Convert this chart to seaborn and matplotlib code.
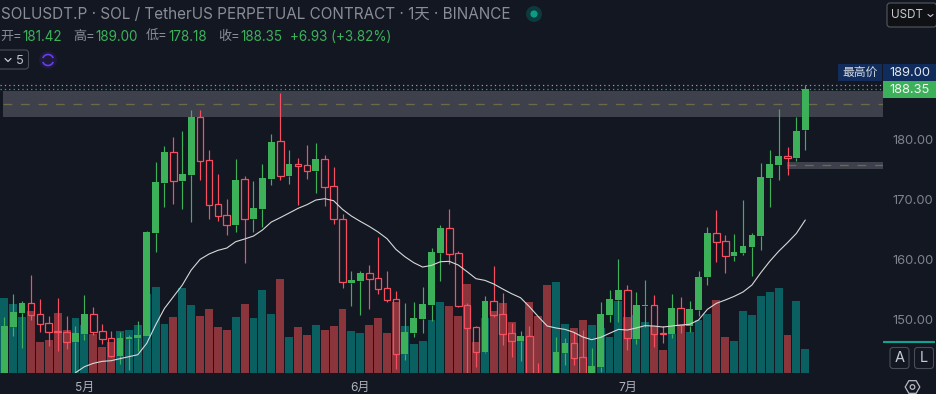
#!/usr/bin/env python3
# -*- coding: utf-8 -*-
# SOLUSDT.P daily candles with volume and a moving average

import numpy as np
import pandas as pd
import seaborn as sns
import matplotlib.pyplot as plt
from matplotlib.patches import Arc, FancyBboxPatch, Rectangle, Circle, RegularPolygon

## Data
opens = [140.0, 148.67, 150.99, 152.61, 150.77, 149.27, 147.94, 147.77, 146.16, 147.50,
         150.77, 147.94, 146.77, 143.83, 146.66, 146.89, 147.16, 164.33, 172.66, 177.77,
         173.00, 174.00, 183.66, 176.44, 169.11, 167.27, 165.66, 173.27, 166.66, 168.33,
         173.33, 179.61, 173.83, 175.83, 175.61, 174.66, 176.61, 172.11, 166.61, 156.00,
         156.33, 157.61, 156.77, 155.11, 153.27, 144.16, 147.66, 150.00, 152.33, 161.00,
         165.11, 160.94, 152.27, 148.61, 144.50, 152.94, 150.77, 147.61, 146.33, 147.11,
         140.1, 138.5, 137.8, 144.33, 145.94, 143.61, 139.5, 142.00, 150.66, 153.16,
         154.77, 146.66, 152.16, 152.27, 147.66, 147.50, 151.77, 148.83, 151.50, 157.00,
         164.27, 162.94, 160.50, 161.00, 162.00, 163.83, 173.50, 175.66, 177.16, 176.83,
         181.42]
highs = [150.27, 154.17, 153.00, 157.33, 153.33, 150.50, 153.50, 150.50, 148.83, 154.00,
         152.00, 149.16, 148.00, 147.83, 147.33, 149.66, 164.66, 176.16, 178.83, 180.33,
         181.33, 184.83, 184.83, 178.16, 174.16, 170.00, 176.66, 173.83, 173.00, 175.83,
         180.83, 187.66, 178.16, 176.83, 179.00, 179.33, 177.33, 175.33, 167.50, 158.00,
         158.00, 159.00, 163.66, 158.00, 154.66, 152.66, 152.83, 155.33, 161.83, 165.66,
         168.33, 161.33, 152.66, 148.83, 153.83, 158.83, 154.33, 149.33, 148.00, 148.83,
         142.66, 140.5, 147.00, 146.83, 147.83, 148.16, 145.16, 152.83, 154.83, 160.00,
         155.66, 154.50, 156.50, 154.00, 148.83, 154.16, 153.66, 153.00, 158.00, 165.33,
         168.16, 164.00, 164.16, 169.83, 164.33, 176.00, 178.16, 185.00, 178.66, 183.66,
         189.00]
lows = [138.5, 147.16, 145.16, 149.83, 147.83, 145.50, 144.66, 145.00, 140.66, 146.50,
        147.33, 145.83, 143.61, 142.50, 141.50, 144.66, 147.16, 161.16, 168.66, 169.16,
        168.33, 166.16, 173.16, 166.66, 166.33, 164.00, 164.50, 159.33, 164.50, 165.33,
        172.33, 173.16, 172.50, 169.00, 173.33, 171.00, 168.83, 165.83, 155.16, 152.16,
        150.66, 151.66, 154.16, 152.83, 141.66, 143.16, 147.00, 147.66, 149.66, 156.33,
        159.16, 152.00, 139.83, 142.00, 144.33, 150.33, 145.66, 143.66, 143.00, 139.83,
        137.5, 136.5, 135.5, 142.33, 142.33, 136.5, 138.0, 141.16, 149.50, 149.50,
        144.83, 145.83, 148.66, 145.33, 146.00, 146.83, 147.66, 147.83, 150.50, 155.66,
        159.50, 157.66, 159.66, 160.66, 157.16, 161.50, 168.66, 173.16, 174.00, 176.33,
        178.18]
closes = [148.83, 151.16, 152.66, 150.66, 149.22, 147.89, 147.89, 146.22, 147.66, 150.83,
          147.89, 146.72, 143.83, 146.83, 147.00, 147.33, 164.50, 172.83, 177.83, 173.05,
          174.16, 183.66, 176.39, 169.05, 167.22, 165.72, 173.16, 166.72, 168.50, 173.50,
          179.50, 173.89, 175.83, 175.50, 174.72, 176.66, 172.05, 166.61, 156.11, 156.50,
          157.66, 156.72, 155.05, 153.22, 144.22, 147.83, 150.16, 152.50, 161.16, 165.16,
          160.89, 152.22, 148.55, 144.55, 153.00, 150.66, 147.55, 146.39, 147.16, 140.11,
          138.5, 137.5, 144.50, 146.00, 143.55, 139.5, 142.16, 150.83, 153.33, 154.83,
          146.89, 152.33, 152.33, 147.55, 147.55, 151.83, 148.94, 151.66, 157.00, 164.33,
          162.89, 160.55, 161.16, 162.16, 164.00, 173.66, 175.83, 177.16, 176.83, 181.33,
          188.35]
volumes = [7.53, 6.93, 5.63, 6.23, 3.13, 3.33, 6.03, 4.33, 5.53, 4.83,
           3.93, 2.63, 3.13, 4.23, 4.33, 4.83, 7.93, 8.63, 4.93, 5.63,
           8.53, 6.83, 5.73, 6.43, 4.63, 4.33, 5.63, 6.93, 5.53, 8.33,
           5.93, 9.43, 3.63, 4.63, 3.83, 4.83, 4.33, 4.73, 6.43, 4.23,
           4.03, 4.83, 5.53, 4.03, 7.13, 4.73, 2.93, 3.23, 5.33, 7.13,
           6.73, 5.73, 8.93, 3.13, 5.53, 6.23, 7.03, 5.13, 3.73, 7.13,
           5.73, 8.83, 9.13, 4.93, 4.53, 5.33, 4.83, 4.53, 3.63, 7.23,
           5.63, 5.83, 5.13, 4.73, 2.33, 3.93, 4.83, 4.13, 5.33, 5.93,
           7.33, 3.63, 3.23, 6.23, 5.83, 7.73, 8.13, 8.53, 3.83, 7.23,
           2.43]
ma_line = [np.nan] * 8 + [
    141.05, 142.05, 142.61, 142.94, 143.05, 143.39, 143.72, 144.05, 145.94, 149.00,
    151.77, 153.72, 155.66, 158.16, 159.94, 160.83, 161.44, 161.83, 162.89, 163.33,
    163.83, 164.83, 166.16, 166.89, 167.66, 168.44, 169.05, 169.83, 170.05, 169.72,
    168.27, 167.16, 166.27, 165.44, 164.50, 163.39, 161.61, 160.39, 159.39, 158.66,
    158.94, 159.55, 159.61, 159.00, 157.89, 156.72, 156.44, 155.83, 155.00, 154.22,
    153.55, 152.05, 150.39, 148.83, 148.50, 148.27, 147.77, 147.00, 146.55, 146.94,
    147.61, 148.27, 148.16, 148.50, 148.89, 148.83, 148.66, 148.83, 149.00, 149.11,
    149.83, 151.61, 152.61, 153.16, 153.77, 154.50, 155.66, 157.72, 159.61, 161.27,
    162.72, 164.27, 166.50]
price_ticks = [150, 160, 170, 180]
month_ticks = [9, 40, 70]
month_labels = ['5月', '6月', '7月']
title_text = 'SOLUSDT.P · SOL / TetherUS PERPETUAL CONTRACT · 1天 · BINANCE'

## Colours
BG = '#131722'
UP = '#3cb15a'
DOWN = '#f74f60'
VOL_UP = '#0a5f60'
VOL_DOWN = '#8a343c'
ZONE = '#3e414b'
DASH = '#6b6a4a'
GREY = '#8a8d95'

sns.set_theme(style='dark', rc={'figure.facecolor': BG, 'axes.facecolor': BG})
plt.rcParams['font.family'] = ['Inter', 'Noto Sans CJK SC', 'DejaVu Sans']

df = pd.DataFrame({'idx': np.arange(len(closes)), 'open': opens, 'high': highs, 'low': lows,
                   'close': closes, 'volume': volumes, 'ma': ma_line})
df['up'] = df['close'] >= df['open']

W, H = 937, 394
PLOT_W, PLOT_H = 883, 373
fig = plt.figure(figsize=(W / 100, H / 100), dpi=100)
pos = [0, (H - PLOT_H) / H, PLOT_W / W, PLOT_H / H]
xlim = (-0.483, 98.73)

## Volume underneath
ax_vol = fig.add_axes(pos)
sns.barplot(data=df, x='idx', y='volume', hue='up', palette={True: VOL_UP, False: VOL_DOWN},
            dodge=False, native_scale=True, width=0.88, saturation=1, legend=False,
            linewidth=0, ax=ax_vol)
ax_vol.set_xlim(xlim)
ax_vol.set_ylim(0, 37.3)
ax_vol.axis('off')

## Price panel
ax = fig.add_axes(pos, facecolor='none')

# zones
x_zone = lambda px: (px / PLOT_W)
ax.axhspan(183.66, 188.0, xmin=x_zone(3), xmax=1, color=ZONE, lw=0, zorder=1)
ax.axhline(185.77, xmin=x_zone(3), xmax=1, color=DASH, lw=0.9, dashes=(7, 7), zorder=1.5)
ax.axhspan(175.0, 176.16, xmin=x_zone(787), xmax=1, color=ZONE, lw=0, zorder=1)
ax.axhline(175.6, xmin=x_zone(787), xmax=1, color=DASH, lw=0.9, dashes=(7, 7), zorder=1.5)
ax.axhline(189.0, color='#9a9ea6', lw=0.9, dashes=(1, 2.5), zorder=1.5)
ax.axhline(188.35, color='#35a58a', lw=0.9, dashes=(1, 2.5), zorder=1.5)

# candles
body_w = 0.75
for row in df.itertuples():
    top, bottom = max(row.open, row.close), min(row.open, row.close)
    col = UP if row.up else DOWN
    ax.vlines(row.idx, top, row.high, color=col, lw=0.85, zorder=3)
    ax.vlines(row.idx, row.low, bottom, color=col, lw=0.85, zorder=3)
    if row.up:
        ax.bar(row.idx, top - bottom, bottom=bottom, width=body_w, color=col, lw=0, zorder=3)
    else:
        ax.bar(row.idx, top - bottom, bottom=bottom, width=body_w, facecolor='none',
               edgecolor=col, lw=0.9, zorder=3)

sns.lineplot(data=df.dropna(subset=['ma']), x='idx', y='ma', color='#d8d8d8', lw=0.8,
             ax=ax, zorder=4, legend=False)

ax.set_xlim(xlim)
ax.set_ylim(141.0, 203.17)
ax.set_xlabel('')
ax.set_ylabel('')
ax.grid(False)
for s in ax.spines.values():
    s.set_visible(False)
ax.yaxis.tick_right()
ax.set_yticks(price_ticks)
ax.set_yticklabels([f'{p:.2f}' for p in price_ticks], color='#80838c', fontsize=9.3)
ax.set_xticks(month_ticks)
ax.set_xticklabels(month_labels, color='#b0b3ba', fontsize=8.6)
ax.tick_params(axis='x', length=0, pad=6.5)
ax.tick_params(axis='y', length=0, pad=6.5)

## Header and the right hand furniture, in pixel coordinates
ov = fig.add_axes([0, 0, 1, 1], facecolor='none')
ov.set_xlim(0, W)
ov.set_ylim(H, 0)
ov.axis('off')

ov.text(1.5, 14.5, title_text, color=GREY, fontsize=11.0, va='center', ha='left')
ov.add_patch(Circle((534, 14), 8, color='#0d3a3c', lw=0))
ov.add_patch(Circle((534, 14), 3.6, color='#0a9d84', lw=0))

# OHLC row
for x, label, val in [(0, '开', '181.42'), (73, '高', '189.00'), (146, '低', '178.18'), (218.5, '收', '188.35')]:
    ov.text(x, 36.5, label + '=', color=GREY, fontsize=9.4, va='center', ha='left')
    ov.text(x + 22, 36.5, val, color=UP, fontsize=9.7, va='center', ha='left')
ov.text(290, 36.5, '+6.93 (+3.82%)', color=UP, fontsize=9.7, va='center', ha='left')

# indicator row
ov.add_patch(FancyBboxPatch((-5, 50), 33.5, 19, boxstyle='round,pad=0,rounding_size=3',
                            fc='none', ec='#4a4d55', lw=0.8))
ov.plot([5, 8, 11], [58.5, 61.5, 58.5], color='#c8cad0', lw=0.9)
ov.text(16, 60.5, '5', color='#c0c2c8', fontsize=9.3, va='center', ha='left')
ov.add_patch(Circle((48, 60), 9, color='#1d1a3c', lw=0))
ov.add_patch(Arc((48, 60), 11, 11, theta1=200, theta2=340, ec='#6a3cf0', lw=1.2))
ov.add_patch(Arc((48, 60), 11, 11, theta1=20, theta2=160, ec='#6a3cf0', lw=1.2))

# USDT button
ov.add_patch(FancyBboxPatch((887, 3), 49.5, 24, boxstyle='round,pad=0,rounding_size=3',
                            fc='#101114', ec='#55585f', lw=0.8))
ov.text(891, 15, 'USDT', color='#c8cad0', fontsize=8.4, va='center', ha='left')
ov.plot([928, 930.5, 933], [14.5, 16.5, 14.5], color='#c8cad0', lw=0.8)

# price tags
ov.add_patch(Rectangle((838, 64), 44, 17, color='#122d5c', lw=0))
ov.text(860, 72.5, '最高价', color='#d5d8de', fontsize=8.5, va='center', ha='center')
ov.add_patch(Rectangle((883, 64), 54, 17, color='#0f2c5c', lw=0))
ov.text(910, 72.5, '189.00', color='#e4e6ea', fontsize=9.3, va='center', ha='center')
ov.add_patch(Rectangle((883, 81), 54, 17, color=UP, lw=0))
ov.text(910, 89.5, '188.35', color='#f2f4f2', fontsize=9.3, va='center', ha='center')

# A / L buttons and settings
ov.plot([883, 935], [342, 342], color='#0fa391', lw=1.5, solid_capstyle='butt')
for bx, txt in [(890, 'A'), (914.5, 'L')]:
    ov.add_patch(FancyBboxPatch((bx, 347.5), 19, 21, boxstyle='round,pad=0,rounding_size=3',
                                fc='none', ec='#4a4d55', lw=0.8))
    ov.text(bx + 9.5, 358, txt, color='#c8cad0', fontsize=10.5, va='center', ha='center')
ov.add_patch(RegularPolygon((912.5, 387), 6, radius=7.3, orientation=np.pi / 6,
                            fc='none', ec='#b8bac0', lw=0.9))
ov.add_patch(Circle((912.5, 387), 2.3, fc='none', ec='#b8bac0', lw=0.9))

plt.savefig('out.png', dpi=100, facecolor=BG)
plt.close()
